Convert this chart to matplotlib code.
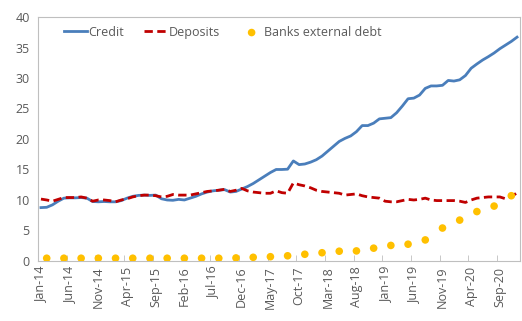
import numpy as np
import pandas as pd
import matplotlib
matplotlib.use("Agg")
import matplotlib.pyplot as plt

plt.rcParams['font.family'] = ['Open Sans', 'DejaVu Sans']

# Monthly series, Jan-2014 .. Dec-2020
months = pd.date_range("2014-01-01", "2020-12-01", freq="MS")
month_labels = [d.strftime("%b-%y") for d in months]

credit = [
    8.75, 8.8, 9.2, 9.8, 10.3, 10.35, 10.35, 10.4, 10.3, 9.75, 9.7, 9.75,
    9.7, 9.7, 9.9, 10.3, 10.6, 10.75, 10.8, 10.75, 10.8, 10.2, 10.0, 9.95,
    10.1, 10.0, 10.3, 10.6, 11.0, 11.3, 11.5, 11.6, 11.7, 11.3, 11.4, 11.8,
    12.2, 12.7, 13.3, 13.9, 14.5, 15.0, 15.0, 15.05, 16.4, 15.8, 15.9, 16.2,
    16.6, 17.2, 18.0, 18.8, 19.6, 20.1, 20.5, 21.2, 22.2, 22.2, 22.6, 23.3,
    23.4, 23.5, 24.3, 25.4, 26.6, 26.7, 27.2, 28.3, 28.7, 28.7, 28.8, 29.6,
    29.5, 29.7, 30.4, 31.6, 32.3, 32.95, 33.5, 34.1, 34.8, 35.4, 36.0, 36.7,
]

deposits = [
    10.15, 10.0, 9.8, 10.1, 10.4, 10.4, 10.4, 10.5, 10.3, 9.8, 10.0, 10.0,
    9.9, 9.7, 10.0, 10.2, 10.5, 10.7, 10.8, 10.8, 10.7, 10.5, 10.6, 10.9,
    10.8, 10.8, 10.8, 11.0, 11.2, 11.4, 11.5, 11.6, 11.75, 11.4, 11.6, 11.9,
    11.5, 11.3, 11.2, 11.1, 11.1, 11.5, 11.2, 11.1, 12.8, 12.5, 12.3, 12.0,
    11.6, 11.4, 11.3, 11.2, 11.1, 10.8, 10.9, 11.0, 10.7, 10.5, 10.4, 10.3,
    9.8, 9.7, 9.7, 9.9, 10.1, 10.0, 10.1, 10.3, 10.0, 9.9, 9.9, 9.9,
    9.9, 9.8, 9.6, 10.0, 10.3, 10.4, 10.5, 10.5, 10.5, 10.2, 10.5, 11.2,
]

# Quarterly series, plotted at the middle month of each quarter
ext_debt = [
    0.45, 0.45, 0.45, 0.45, 0.45, 0.45, 0.45, 0.45, 0.45, 0.45, 0.45, 0.5,
    0.6, 0.7, 0.85, 1.1, 1.35, 1.6, 1.65, 2.1, 2.55, 2.75, 3.45, 5.4,
    6.7, 8.1, 9.0, 10.7,
]

x = np.arange(len(months))
xq = np.arange(1, len(months), 3)[:len(ext_debt)]

fig = plt.figure(figsize=(5.22, 3.21), dpi=100)
ax = fig.add_axes([0.073, 0.187, 0.923, 0.76])

ax.plot(x, credit, color="#4A7EBB", lw=2, label="Credit", zorder=3)
ax.plot(x, deposits, color="#C00000", lw=2, ls=(0, (3, 1.6)), label="Deposits", zorder=3)
ax.scatter(xq, ext_debt, s=30, color="#FFC000", edgecolor="none",
           label="Banks external debt", zorder=4)

ax.set_xlim(-0.5, len(months) - 0.5)
ax.set_ylim(0, 40)
ax.set_yticks(np.arange(0, 41, 5))

# category-style axis: labels every 5 months, ticks on category boundaries
ax.set_xticks(x[::5])
ax.set_xticklabels(month_labels[::5], rotation=90)
ax.set_xticks(np.arange(-0.5, len(months), 5), minor=True)
ax.tick_params(axis="x", which="major", length=0, pad=4)
ax.tick_params(axis="x", which="minor", length=4, direction="in", color="#BFBFBF")
ax.tick_params(axis="y", length=0, pad=6)
ax.tick_params(labelsize=9, labelcolor="#595959")

for side in ["left", "right", "top", "bottom"]:
    ax.spines[side].set_color("#BFBFBF")
    ax.spines[side].set_linewidth(0.8)

leg = ax.legend(loc="upper left", bbox_to_anchor=(0.031, 1.01), ncol=3, frameon=False,
                fontsize=9, handlelength=1.85, handletextpad=0.1, columnspacing=1.6,
                labelcolor="#595959")

fig.savefig("out.png", dpi=100)
